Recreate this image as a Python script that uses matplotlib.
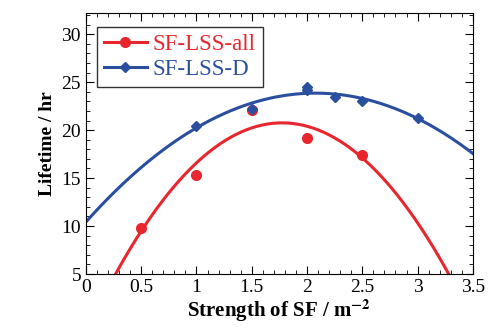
import numpy as np
import matplotlib.pyplot as plt
from matplotlib.ticker import MultipleLocator

plt.rcParams['font.family'] = ['Liberation Serif', 'DejaVu Serif']
plt.rcParams['mathtext.fontset'] = 'stix'

# data
sf_all_x = [0.5, 1.0, 1.5, 2.0, 2.5]
sf_all_y = [9.8, 15.3, 22.1, 19.2, 17.4]
sf_d_x = [1.0, 1.5, 2.0, 2.0, 2.25, 2.5, 3.0]
sf_d_y = [20.4, 22.2, 24.5, 24.2, 23.4, 23.0, 21.3]

red = '#e8262e'
blue = '#2a4f9e'

fig = plt.figure(figsize=(4.88, 3.35), dpi=100)
ax = fig.add_axes([0.176, 0.182, 0.793, 0.779])

# quadratic fits drawn through the points
xs = np.linspace(0, 3.5, 300)
p_all = np.polyfit(sf_all_x, sf_all_y, 2)
p_d = np.polyfit(sf_d_x, sf_d_y, 2)

ax.plot(xs, np.polyval(p_all, xs), color=red, lw=2.2)
ax.plot(xs, np.polyval(p_d, xs), color=blue, lw=2.2)
ax.plot(sf_all_x, sf_all_y, 'o', color=red, ms=7)
ax.plot(sf_d_x, sf_d_y, 'D', color=blue, ms=5)

# legend entries
ax.plot([], [], '-o', color=red, lw=2.2, ms=7, label='SF-LSS-all')
ax.plot([], [], '-D', color=blue, lw=2.2, ms=5, label='SF-LSS-D')
leg = ax.legend(loc='upper left', fontsize=16.5, frameon=True, fancybox=False,
                edgecolor='black', handlelength=1.9, handletextpad=0.25,
                borderpad=0.3, labelspacing=0.15, borderaxespad=0,
                bbox_to_anchor=(0.028, 0.945))
leg.get_frame().set_linewidth(1.0)
for t, c in zip(leg.get_texts(), [red, blue]):
    t.set_color(c)

ax.set_xlim(0, 3.5)
ax.set_ylim(5, 32.2)
ax.xaxis.set_major_locator(MultipleLocator(0.5))
ax.xaxis.set_minor_locator(MultipleLocator(0.1))
ax.yaxis.set_major_locator(MultipleLocator(5))
ax.yaxis.set_minor_locator(MultipleLocator(1))
ax.set_xticks([0, 0.5, 1, 1.5, 2, 2.5, 3, 3.5])
ax.set_xticklabels(['0', '0.5', '1', '1.5', '2', '2.5', '3', '3.5'])
ax.tick_params(which='both', direction='in', top=True, right=True, labelsize=14)
ax.tick_params(which='major', length=6)
ax.tick_params(which='minor', length=3)

ax.set_xlabel('Strength of SF / m$^{\\mathbf{-2}}$', fontsize=15, fontweight='bold', labelpad=1)
ax.set_ylabel('Lifetime / hr', fontsize=14, fontweight='bold')

fig.savefig('out.png', dpi=100)
